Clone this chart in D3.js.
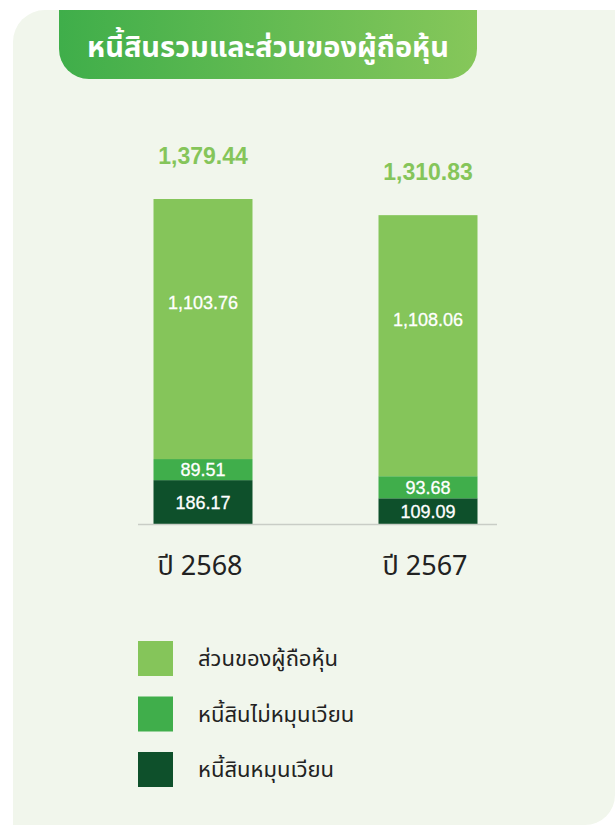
<!DOCTYPE html>
<html>
<head>
<meta charset="utf-8">
<script src="https://cdn.jsdelivr.net/npm/d3@7"></script>
<style>
  html, body { margin: 0; padding: 0; background: #ffffff; }
  #chart { width: 615px; height: 825px; }
  text { font-family: "Liberation Sans", "Noto Sans Thai", "Noto Sans", sans-serif; }
  .thai { font-family: "Noto Sans Thai", "Noto Sans", "DejaVu Sans", sans-serif; }
</style>
</head>
<body>
<div id="chart"></div>
<script>
// data
const title = "หนี้สินรวมและส่วนของผู้ถือหุ้น";
const years = ["ปี 2568", "ปี 2567"];
const series = ["หนี้สินหมุนเวียน", "หนี้สินไม่หมุนเวียน", "ส่วนของผู้ถือหุ้น"];
const currentLiab = [186.17, 109.09];
const nonCurrentLiab = [89.51, 93.68];
const equity = [1103.76, 1108.06];
const totals = [1379.44, 1310.83];
const legendOrder = ["ส่วนของผู้ถือหุ้น", "หนี้สินไม่หมุนเวียน", "หนี้สินหมุนเวียน"];

const colors = {
    "หนี้สินหมุนเวียน": "#0e502b",
    "หนี้สินไม่หมุนเวียน": "#40ae4b",
    "ส่วนของผู้ถือหุ้น": "#85c55a"
};

const width = 615, height = 825;

const svg = d3.select("#chart")
    .append("svg")
    .attr("width", width)
    .attr("height", height);

// gradient for title pill
const defs = svg.append("defs");
const grad = defs.append("linearGradient")
    .attr("id", "titleGrad")
    .attr("x1", "0%").attr("x2", "100%")
    .attr("y1", "0%").attr("y2", "0%");
grad.append("stop").attr("offset", "0%").attr("stop-color", "#3fae4a");
grad.append("stop").attr("offset", "100%").attr("stop-color", "#86c75a");

// panel background (rounded corners, bottom right cut at the page edge)
svg.append("path")
    .attr("d", "M 13 42 A 32 32 0 0 1 45 10 L 615 10 L 615 795 A 30 30 0 0 1 585 825 L 13 825 Z")
    .attr("fill", "#f1f6ec");

// title pill: flat top, rounded bottom corners
const px0 = 59, px1 = 477, py0 = 10, py1 = 79, pr = 30;
svg.append("path")
    .attr("d", `M ${px0} ${py0} L ${px1} ${py0} L ${px1} ${py1 - pr} A ${pr} ${pr} 0 0 1 ${px1 - pr} ${py1} L ${px0 + pr} ${py1} A ${pr} ${pr} 0 0 1 ${px0} ${py1 - pr} Z`)
    .attr("fill", "url(#titleGrad)");

svg.append("text")
    .attr("class", "thai")
    .attr("x", (px0 + px1) / 2)
    .attr("y", 57)
    .attr("text-anchor", "middle")
    .attr("fill", "#ffffff")
    .attr("font-size", 29)
    .attr("font-weight", "bold")
    .text(title);

// scales
const baseY = 524;
const y = d3.scaleLinear()
    .domain([0, d3.max(totals)])
    .range([baseY, 199]);

const x = d3.scalePoint()
    .domain(years)
    .range([203, 428]);

const barW = 99;

// stack
const rows = years.map((yr, i) => ({
    year: yr,
    "หนี้สินหมุนเวียน": currentLiab[i],
    "หนี้สินไม่หมุนเวียน": nonCurrentLiab[i],
    "ส่วนของผู้ถือหุ้น": equity[i]
}));
const stacked = d3.stack().keys(series)(rows);

const layers = svg.selectAll("g.layer")
    .data(stacked)
    .enter()
    .append("g")
    .attr("class", "layer")
    .attr("fill", d => colors[d.key]);

layers.selectAll("rect")
    .data(d => d)
    .enter()
    .append("rect")
    .attr("x", d => x(d.data.year) - barW / 2)
    .attr("y", d => y(d[1]))
    .attr("width", barW)
    .attr("height", d => y(d[0]) - y(d[1]));

// labels inside the segments
const fmt = d3.format(",.2f");
stacked.forEach(layer => {
    layer.forEach(d => {
        const top = y(d[1]), bot = y(d[0]);
        // the equity label sits a bit above the middle
        const cy = layer.key === "ส่วนของผู้ถือหุ้น" ? top + (bot - top) * 0.4 : (top + bot) / 2;
        svg.append("text")
            .attr("x", x(d.data.year))
            .attr("y", cy)
            .attr("dy", "0.36em")
            .attr("text-anchor", "middle")
            .attr("fill", "#ffffff")
            .attr("font-size", 18)
            .attr("stroke", "#ffffff")
            .attr("stroke-width", 0.3)
            .text(fmt(d[1] - d[0]));
    });
});

// totals above the bars
svg.selectAll("text.total")
    .data(years)
    .enter()
    .append("text")
    .attr("class", "total")
    .attr("x", d => x(d))
    .attr("y", (d, i) => y(totals[i]) - 35)
    .attr("text-anchor", "middle")
    .attr("fill", "#85c55a")
    .attr("font-size", 23)
    .attr("font-weight", "bold")
    .text((d, i) => fmt(totals[i]));

// baseline
svg.append("line")
    .attr("x1", 138).attr("x2", 497)
    .attr("y1", baseY + 0.5).attr("y2", baseY + 0.5)
    .attr("stroke", "#c9cdc6")
    .attr("stroke-width", 1.5);

// category labels
svg.selectAll("text.cat")
    .data(years)
    .enter()
    .append("text")
    .attr("class", "cat thai")
    .attr("x", d => x(d) - 3)
    .attr("y", 575)
    .attr("text-anchor", "middle")
    .attr("fill", "#222222")
    .attr("font-size", 27)
    .text(d => d);

// legend
const legend = svg.selectAll("g.legend")
    .data(legendOrder)
    .enter()
    .append("g")
    .attr("class", "legend")
    .attr("transform", (d, i) => `translate(138, ${641 + i * 55.5})`);

legend.append("rect")
    .attr("width", 35)
    .attr("height", 35)
    .attr("fill", d => colors[d]);

legend.append("text")
    .attr("class", "thai")
    .attr("x", 60)
    .attr("y", 25)
    .attr("fill", "#222222")
    .attr("font-size", 22)
    .text(d => d);
</script>
</body>
</html>
